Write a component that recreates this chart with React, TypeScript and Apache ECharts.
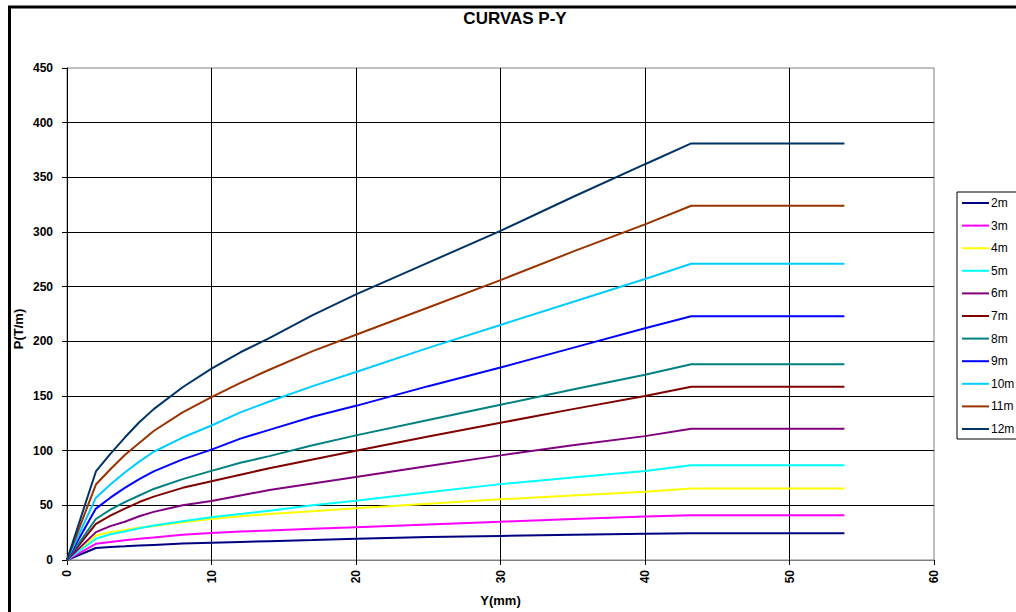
import React, { useEffect, useRef } from "react";
import * as echarts from "echarts";

const xsMm = [0, 2, 3, 4, 5, 6, 8, 10, 12, 14, 17, 20, 25, 30, 35, 40, 43.2, 53.8];
const seriesNames = ["2m", "3m", "4m", "5m", "6m", "7m", "8m", "9m", "10m", "11m", "12m"];
const seriesColors = ["#000080", "#FF00FF", "#FFFF00", "#00FFFF", "#800080", "#800000", "#008080", "#0000FF", "#00CCFF", "#993300", "#003366"];
const p2m = [0, 11, 12, 12.5, 13.2, 13.8, 15, 15.8, 16.5, 17.2, 18.2, 19.4, 21, 22, 23, 23.9, 24.5, 24.5];
const p3m = [0, 14.8, 16.5, 18, 19.5, 20.5, 23, 24.8, 26, 27, 28.5, 30, 32.5, 35, 37.5, 39.7, 40.9, 40.9];
const p4m = [0, 22.4, 25.5, 27.5, 29.5, 31, 34.5, 37.6, 40, 42, 44.5, 47.3, 51.5, 55.5, 59, 62.4, 65.5, 65.5];
const p5m = [0, 19.4, 23.5, 26, 29, 31.5, 35.5, 39, 42, 45, 50, 54.2, 62, 69.4, 75.5, 81.5, 86.7, 86.7];
const p6m = [0, 25.5, 31, 35, 40, 44, 50, 54, 59, 64, 70, 76, 86, 95.7, 105, 113.3, 120, 120];
const p7m = [0, 33, 40.5, 47, 53, 58, 66, 72, 78, 84, 92, 100, 113, 125.5, 138, 150, 158.5, 158.5];
const p8m = [0, 37.5, 46, 53, 59, 65, 74, 81.5, 89, 95, 105, 114, 128, 142, 156, 169.5, 179, 179];
const p9m = [0, 47, 57, 66, 74, 81, 92, 101, 111, 119, 131, 141, 159, 176, 194, 212, 223, 223];
const p10m = [0, 57, 69, 80, 90, 99, 112, 123, 135, 145, 159, 172, 194, 215, 236, 257, 271, 271];
const p11m = [0, 69, 83, 96, 107, 118, 135, 149, 162, 174, 191, 206, 231, 256, 282, 307, 324, 324];
const p12m = [0, 81, 97, 112, 126, 138, 158, 175, 190, 203, 224, 243, 272, 301, 332, 362, 381, 381];
const allP = [p2m, p3m, p4m, p5m, p6m, p7m, p8m, p9m, p10m, p11m, p12m];

const FONT = "'Liberation Sans', Arial, sans-serif";

export default function App() {
  const ref = useRef<HTMLDivElement>(null);
  useEffect(() => {
    if (!ref.current) return;
    const chart = echarts.init(ref.current, null, { renderer: "svg" });
    chart.setOption({
      animation: false,
      backgroundColor: "#ffffff",
      title: {
        text: "CURVAS P-Y",
        left: 510,
        textAlign: "center",
        top: 5,
        textStyle: { fontFamily: FONT, fontWeight: "bold", fontSize: 17, color: "#000" },
      },
      grid: {
        left: 67,
        right: 82,
        top: 68,
        bottom: 49,
        show: true,
        borderColor: "#808080",
        borderWidth: 1,
      },
      legend: {
        orient: "vertical",
        left: 957,
        top: 192,
        data: seriesNames,
        icon: "rect",
        borderColor: "#000",
        borderWidth: 1,
        padding: [5, 40, 4, 5],
        itemWidth: 27,
        itemHeight: 2,
        itemGap: 10.6,
        textStyle: { fontFamily: FONT, fontSize: 12, color: "#000", padding: [0, 0, 0, -3] },
      },
      xAxis: {
        type: "value",
        min: 0,
        max: 60,
        interval: 10,
        name: "Y(mm)",
        nameLocation: "middle",
        nameGap: 34,
        nameTextStyle: { fontFamily: FONT, fontWeight: "bold", fontSize: 13, color: "#000" },
        axisLine: { show: true, lineStyle: { color: "#808080", width: 1 } },
        axisTick: { show: true, inside: false, length: 5, lineStyle: { color: "#000" } },
        axisLabel: { rotate: 90, margin: 10, fontFamily: FONT, fontWeight: "bold", fontSize: 12, color: "#000" },
        splitLine: { show: true, showMinLine: false, showMaxLine: false, lineStyle: { color: "#000", width: 1 } },
      },
      yAxis: {
        type: "value",
        min: 0,
        max: 450,
        interval: 50,
        axisLine: { show: true, onZero: false, lineStyle: { color: "#000", width: 1 } },
        axisTick: { show: true, inside: false, length: 5, lineStyle: { color: "#000" } },
        axisLabel: { margin: 14, fontFamily: FONT, fontWeight: "bold", fontSize: 12, color: "#000" },
        splitLine: { show: true, showMinLine: false, showMaxLine: false, lineStyle: { color: "#000", width: 1 } },
      },
      graphic: [
        {
          type: "rect",
          silent: true,
          shape: { x: 9.5, y: 7, width: 1030, height: 640 },
          style: { fill: "none", stroke: "#000", lineWidth: 3 },
          z: 100,
        },
        {
          type: "text",
          x: 18,
          y: 329,
          rotation: Math.PI / 2,
          style: {
            text: "P(T/m)",
            fontFamily: FONT,
            fontWeight: "bold",
            fontSize: 13,
            fill: "#000",
            align: "center",
            verticalAlign: "middle",
          },
        },
      ],
      series: seriesNames.map((name, i) => ({
        name,
        type: "line",
        symbol: "none",
        color: seriesColors[i],
        lineStyle: { width: 2, color: seriesColors[i] },
        data: xsMm.map((x, j) => [x, allP[i][j]]),
      })),
    });
    return () => chart.dispose();
  }, []);
  return (
    <div
      ref={ref}
      style={{ position: "fixed", left: 0, top: 0, width: 1016, height: 612, background: "#fff" }}
    />
  );
}
